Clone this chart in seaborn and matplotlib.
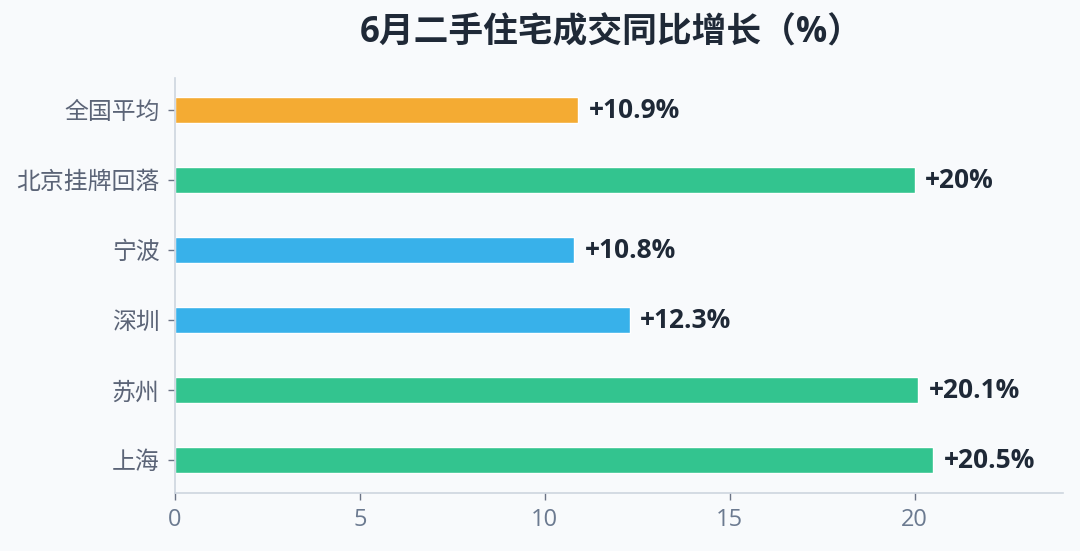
import pandas as pd
import matplotlib.pyplot as plt
import seaborn as sns

# 数据
cities = ['全国平均', '北京挂牌回落', '宁波', '深圳', '苏州', '上海']
growth = [10.9, 20, 10.8, 12.3, 20.1, 20.5]
labels = ['+10.9%', '+20%', '+10.8%', '+12.3%', '+20.1%', '+20.5%']
colors = ['#F4AB33', '#33C48F', '#38B1EA', '#38B1EA', '#33C48F', '#33C48F']
x_ticks = [0, 5, 10, 15, 20]

df = pd.DataFrame({'city': cities, 'growth': growth})

sns.set_theme(style='white')
plt.rcParams['font.family'] = ['Open Sans', 'Noto Sans CJK SC', 'DejaVu Sans']

bg = '#F8FAFC'
fig = plt.figure(figsize=(10.8, 5.51), dpi=100, facecolor=bg)
ax = fig.add_axes([0.162, 0.105, 0.822, 0.753], facecolor=bg)

sns.barplot(data=df, x='growth', y='city', hue='city', palette=colors,
            legend=False, width=0.37, ax=ax, saturation=1)

for i, (v, t) in enumerate(zip(growth, labels)):
    ax.text(v + 0.28, i, t, va='center', ha='left', fontsize=19,
            fontweight='bold', color='#1F2937')

ax.set_xlim(0, 24)
ax.set_ylim(5.47, -0.46)
ax.set_xticks(x_ticks)
ax.set_xlabel('')
ax.set_ylabel('')

for s in ['top', 'right']:
    ax.spines[s].set_visible(False)
for s in ['left', 'bottom']:
    ax.spines[s].set_color('#CDD5DF')
    ax.spines[s].set_linewidth(1.2)

ax.tick_params(axis='y', length=5, width=1, color='#6B7486', labelsize=17.2,
               labelcolor='#5B6477', pad=6, left=True)
ax.tick_params(axis='x', length=5, width=1, color='#6B7486', labelsize=17,
               labelcolor='#6B7A90', pad=6, bottom=True)

fig.text(0.566, 0.94, '6月二手住宅成交同比增长（%）', ha='center', va='center',
         fontsize=25, fontweight='bold', color='#1F2937')

fig.savefig('out.png', dpi=100, facecolor=bg)
